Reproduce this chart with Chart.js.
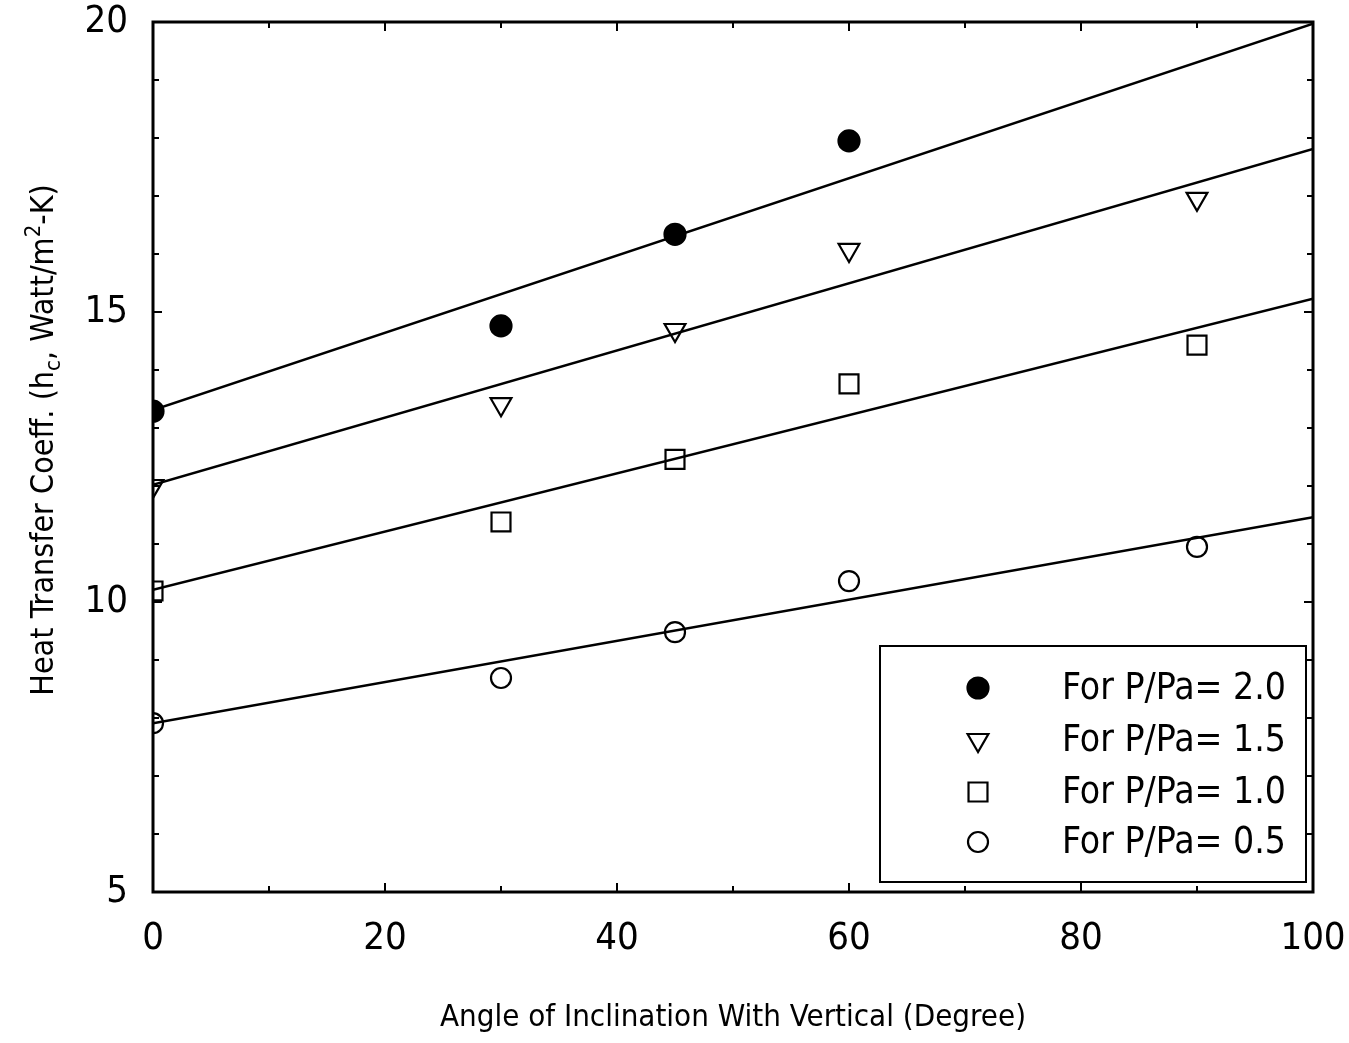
<!DOCTYPE html>
<html>
<head>
<meta charset="utf-8">
<script src="https://cdn.jsdelivr.net/npm/chart.js@4.4.1/dist/chart.umd.min.js"></script>
<style>
  html, body { margin: 0; padding: 0; background: #ffffff; }
  #wrap { width: 1349px; height: 1043px; }
</style>
</head>
<body>
<div id="wrap"><canvas id="c" width="1349" height="1043"></canvas></div>
<script>
// ---- data ----
const angles = [0, 30, 45, 60, 90];
const hc_20 = [13.29, 14.76, 16.34, 17.95, null];
const hc_15 = [12.00, 13.41, 14.69, 16.07, 16.95];
const hc_10 = [10.19, 11.38, 12.46, 13.76, 14.43];
const hc_05 = [7.91, 8.69, 9.48, 10.36, 10.95];

// fitted straight lines: value at angle 0 and at angle 100
const fitX = [0, 100];
const fit_20 = [13.31, 19.97];
const fit_15 = [12.02, 17.81];
const fit_10 = [10.21, 15.23];
const fit_05 = [7.91, 11.46];

const legendLabels = ['For P/Pa= 2.0', 'For P/Pa= 1.5', 'For P/Pa= 1.0', 'For P/Pa= 0.5'];
const xTicks = [0, 20, 40, 60, 80, 100];
const yTicks = [5, 10, 15, 20];
const xTitle = 'Angle of Inclination With Vertical (Degree)';

const FONT = "'Liberation Sans Narrow', 'DejaVu Sans Condensed', 'Arial Narrow', 'Liberation Sans', sans-serif";

function pts(xs, ys) {
  const out = [];
  xs.forEach((x, i) => { if (ys[i] !== null) out.push({x: x, y: ys[i]}); });
  return out;
}

const markerSets = [
  {data: pts(angles, hc_20), style: 'circle', radius: 10.5, fill: '#000', rot: 0},
  {data: pts(angles, hc_15), style: 'triangle', radius: 12, fill: 'rgba(0,0,0,0)', rot: 180},
  {data: pts(angles, hc_10), style: 'rect', radius: 13.4, fill: 'rgba(0,0,0,0)', rot: 0},
  {data: pts(angles, hc_05), style: 'circle', radius: 10, fill: 'rgba(0,0,0,0)', rot: 0}
];
const fits = [fit_20, fit_15, fit_10, fit_05];

const datasets = [];
fits.forEach((f) => {
  datasets.push({
    type: 'line', data: pts(fitX, f), borderColor: '#000', borderWidth: 2.5,
    pointRadius: 0, fill: false, tension: 0, order: 2
  });
});
markerSets.forEach((m) => {
  datasets.push({
    type: 'scatter', data: m.data, pointStyle: m.style, pointRadius: m.radius,
    pointHoverRadius: m.radius, pointRotation: m.rot, pointBackgroundColor: m.fill,
    pointBorderColor: '#000', pointBorderWidth: 2.2, showLine: false, order: 1
  });
});

const framePlugin = {
  id: 'frame',
  beforeDraw(chart) {
    const ctx = chart.ctx;
    ctx.save();
    ctx.fillStyle = '#fff';
    ctx.fillRect(0, 0, chart.width, chart.height);
    ctx.restore();
  },
  afterDraw(chart) {
    const ctx = chart.ctx;
    const a = chart.chartArea;
    const xs = chart.scales.x, ys = chart.scales.y;
    ctx.save();
    ctx.strokeStyle = '#000';
    // ticks (inward on all sides)
    ctx.lineWidth = 2;
    ctx.beginPath();
    for (let v = 0; v <= 100; v += 10) {
      const px = xs.getPixelForValue(v);
      const len = (v % 20 === 0) ? 9 : 6;
      ctx.moveTo(px, a.bottom); ctx.lineTo(px, a.bottom - len);
      ctx.moveTo(px, a.top); ctx.lineTo(px, a.top + len);
    }
    for (let v = 5; v <= 20; v += 1) {
      const py = ys.getPixelForValue(v);
      const len = (v % 5 === 0) ? 9 : 6;
      ctx.moveTo(a.left, py); ctx.lineTo(a.left + len, py);
      ctx.moveTo(a.right, py); ctx.lineTo(a.right - len, py);
    }
    ctx.stroke();
    // frame
    ctx.lineWidth = 3;
    ctx.strokeRect(a.left, a.top, a.right - a.left, a.bottom - a.top);

    // legend box
    const lx = 880, ly = 646, lw = 426, lh = 236;
    ctx.fillStyle = '#fff';
    ctx.fillRect(lx, ly, lw, lh);
    ctx.lineWidth = 2;
    ctx.strokeRect(lx, ly, lw, lh);
    const rowY = [688, 740, 792, 842];
    markerSets.forEach((m, i) => {
      ctx.fillStyle = m.fill;
      ctx.lineWidth = 2.2;
      ctx.strokeStyle = '#000';
      Chart.helpers.drawPoint(ctx, {pointStyle: m.style, radius: m.radius, rotation: m.rot, borderWidth: 2.2}, 978, rowY[i]);
    });
    ctx.fillStyle = '#000';
    ctx.font = '37px ' + FONT;
    ctx.textBaseline = 'middle';
    ctx.textAlign = 'left';
    legendLabels.forEach((t, i) => ctx.fillText(t, 1062, rowY[i] + 1));

    // x axis title
    ctx.font = '31px ' + FONT;
    ctx.textAlign = 'center';
    ctx.textBaseline = 'middle';
    ctx.fillText(xTitle, 733, 1018);

    // y axis title with subscript / superscript
    const base = '32px ' + FONT, small = '22px ' + FONT;
    const parts = [
      {t: 'Heat Transfer Coeff. (h', f: base, dy: 0},
      {t: 'c', f: small, dy: 9},
      {t: ', Watt/m', f: base, dy: 0},
      {t: '2', f: small, dy: -11},
      {t: '-K)', f: base, dy: 0}
    ];
    let total = 0;
    parts.forEach(p => { ctx.font = p.f; p.w = ctx.measureText(p.t).width; total += p.w; });
    ctx.translate(45, 440);
    ctx.rotate(-Math.PI / 2);
    ctx.textAlign = 'left';
    let cx = -total / 2;
    parts.forEach(p => { ctx.font = p.f; ctx.fillText(p.t, cx, p.dy); cx += p.w; });
    ctx.restore();
  }
};

new Chart(document.getElementById('c'), {
  type: 'scatter',
  data: {datasets: datasets},
  options: {
    responsive: false,
    animation: false,
    devicePixelRatio: 1,
    layout: {padding: {top: 22, right: 36, left: 0, bottom: 0}},
    plugins: {legend: {display: false}, tooltip: {enabled: false}, title: {display: false}},
    scales: {
      x: {
        type: 'linear', min: 0, max: 100,
        afterFit: (s) => { s.height = 151; s.paddingLeft = 0; s.paddingRight = 0; },
        afterBuildTicks: (s) => { s.ticks = xTicks.map(v => ({value: v})); },
        grid: {display: false, drawTicks: false},
        border: {display: false},
        ticks: {autoSkip: false, maxRotation: 0, padding: 24, color: '#000',
                font: {family: FONT, size: 38}, callback: (v) => String(v)}
      },
      y: {
        type: 'linear', min: 5, max: 20,
        afterFit: (s) => { s.width = 153; s.paddingTop = 0; s.paddingBottom = 0; },
        afterBuildTicks: (s) => { s.ticks = yTicks.map(v => ({value: v})); },
        grid: {display: false, drawTicks: false},
        border: {display: false},
        ticks: {autoSkip: false, padding: 25, color: '#000',
                font: {family: FONT, size: 38}, callback: (v) => String(v)}
      }
    }
  },
  plugins: [framePlugin]
});
</script>
</body>
</html>
